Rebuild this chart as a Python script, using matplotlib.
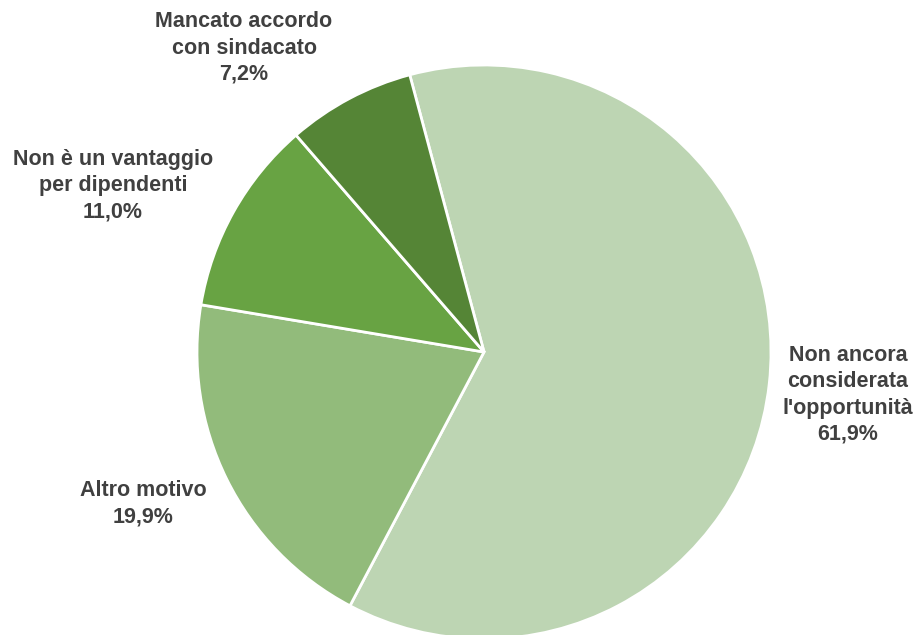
import matplotlib
matplotlib.use("Agg")
import matplotlib.pyplot as plt

categories = ["Non ancora\nconsiderata\nl'opportunità", "Altro motivo",
              "Non è un vantaggio\nper dipendenti", "Mancato accordo\ncon sindacato"]
values = [61.9, 19.9, 11.0, 7.2]
colors = ["#BDD5B3", "#92BB7B", "#68A343", "#558536"]

W, H = 924, 635
cx, cy, r = 484, 352, 287
fig = plt.figure(figsize=(W / 100, H / 100), dpi=100)
ax = fig.add_axes([(cx - r) / W, (H - cy - r) / H, 2 * r / W, 2 * r / H])
ax.pie(values, colors=colors, startangle=105, counterclock=False,
       wedgeprops=dict(edgecolor="white", linewidth=2), radius=1)
ax.set_xlim(-1, 1)
ax.set_ylim(-1, 1)
ax.set_aspect("equal")
ax.axis("off")

# label centre positions in pixel coordinates (x, y from top)
label_pos = [(848, 395), (143, 504), (113, 186), (244, 48)]
for cat, v, (px, py) in zip(categories, values, label_pos):
    txt = f"{cat}\n{v:.1f}%".replace(".", ",")
    fig.text(px / W, 1 - py / H, txt, ha="center", va="center",
             fontsize=15.5, fontweight="bold", color="#404040",
             family="Liberation Sans", linespacing=1.32)

fig.savefig("out.png", dpi=100)
